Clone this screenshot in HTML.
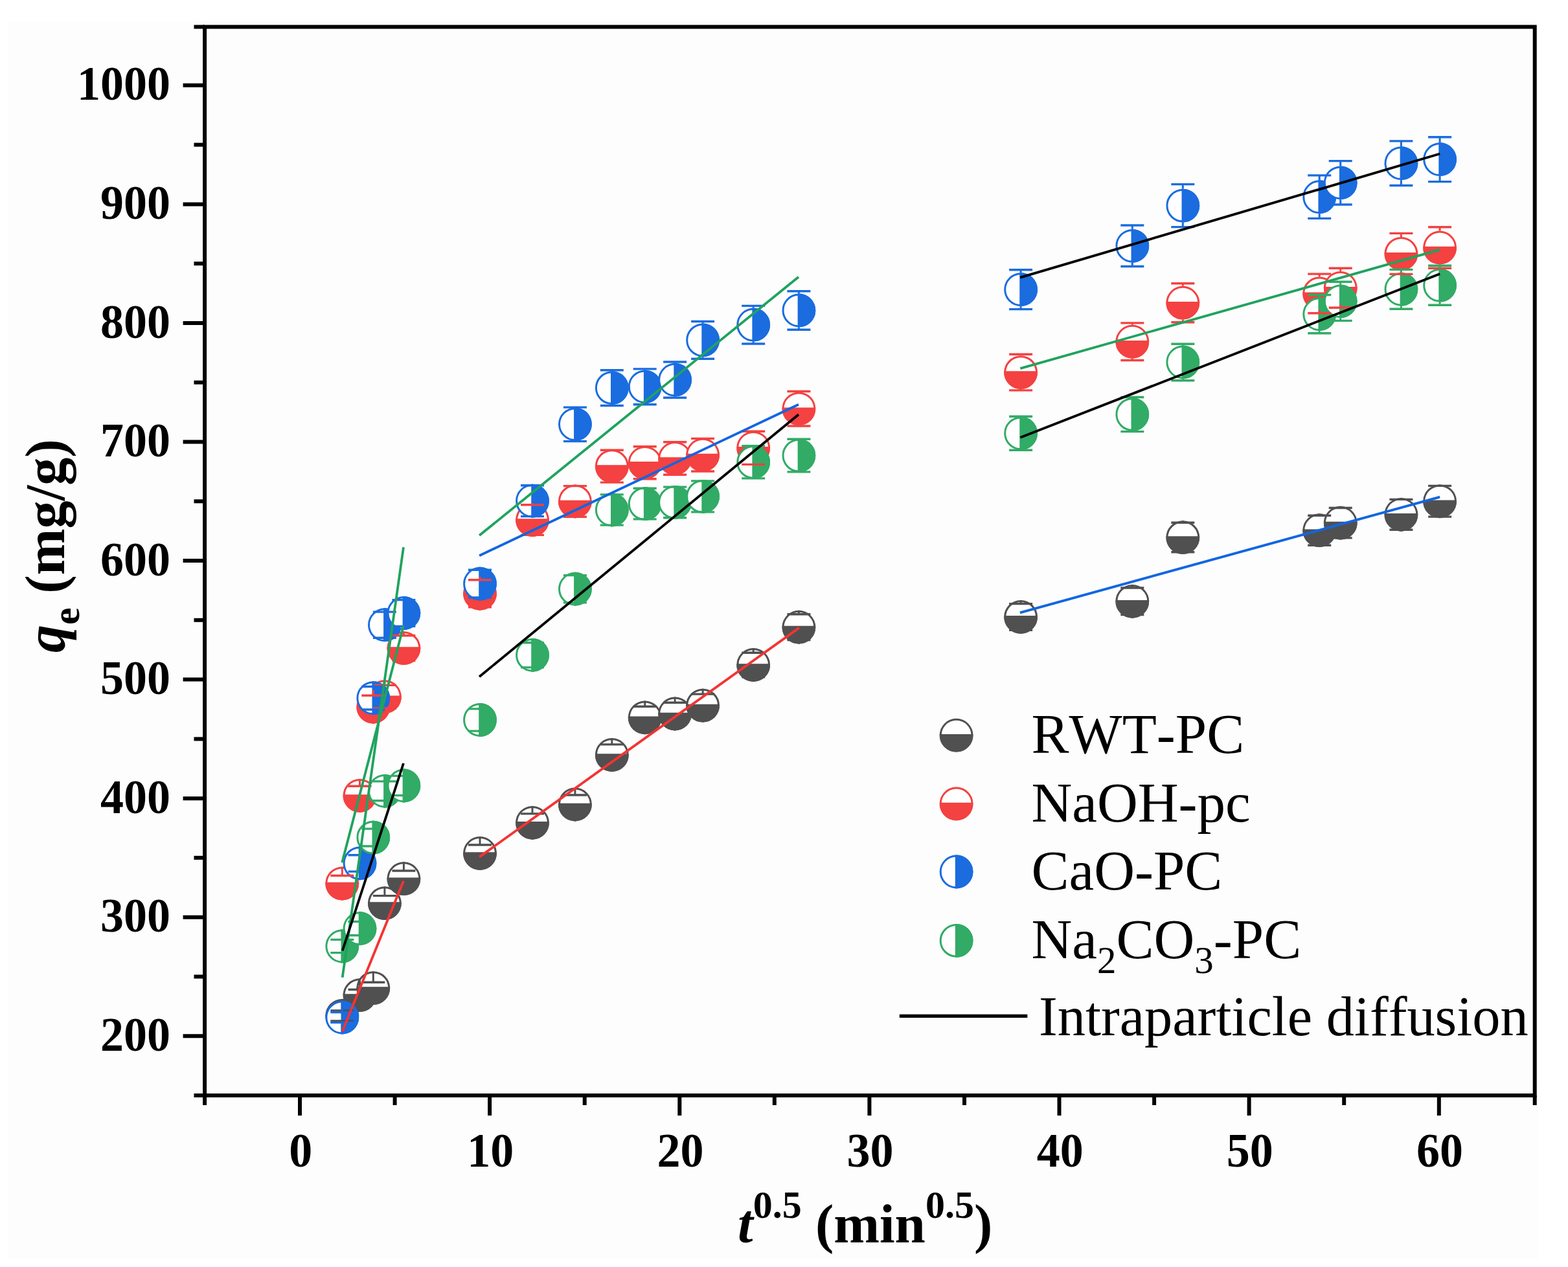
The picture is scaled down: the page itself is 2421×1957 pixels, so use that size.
<!DOCTYPE html>
<html><head><meta charset="utf-8"><title>Intraparticle diffusion</title>
<style>html,body{margin:0;padding:0;background:#fff;width:2421px;height:1957px;overflow:hidden}svg{display:block}text{font-kerning:none}</style>
</head><body><svg width="2421" height="1957" viewBox="0 0 2421 1957"><rect x="13" y="33" width="2362" height="1912" fill="#fdfdfd"/><g><circle cx="528.3" cy="1568.9" r="24.4" fill="#fff" stroke="#505050" stroke-width="3.0"/><path d="M502.47,1567.09 A25.90,25.90 0 1 0 554.14,1567.09 Z" fill="#505050"/><circle cx="555.5" cy="1537.1" r="24.4" fill="#fff" stroke="#505050" stroke-width="3.0"/><path d="M529.64,1535.34 A25.90,25.90 0 1 0 581.32,1535.34 Z" fill="#505050"/><circle cx="576.3" cy="1526.1" r="24.4" fill="#fff" stroke="#505050" stroke-width="3.0"/><path d="M550.50,1524.32 A25.90,25.90 0 1 0 602.17,1524.32 Z" fill="#505050"/><circle cx="593.9" cy="1395.1" r="24.4" fill="#fff" stroke="#505050" stroke-width="3.0"/><path d="M568.08,1393.26 A25.90,25.90 0 1 0 619.75,1393.26 Z" fill="#505050"/><circle cx="623.4" cy="1357.2" r="24.4" fill="#fff" stroke="#505050" stroke-width="3.0"/><path d="M597.56,1355.45 A25.90,25.90 0 1 0 649.24,1355.45 Z" fill="#505050"/><circle cx="741.0" cy="1318.0" r="24.4" fill="#fff" stroke="#505050" stroke-width="3.0"/><path d="M715.21,1316.16 A25.90,25.90 0 1 0 766.88,1316.16 Z" fill="#505050"/><circle cx="822.0" cy="1270.8" r="24.4" fill="#fff" stroke="#505050" stroke-width="3.0"/><path d="M796.20,1268.99 A25.90,25.90 0 1 0 847.88,1268.99 Z" fill="#505050"/><circle cx="887.9" cy="1242.5" r="24.4" fill="#fff" stroke="#505050" stroke-width="3.0"/><path d="M862.04,1240.72 A25.90,25.90 0 1 0 913.71,1240.72 Z" fill="#505050"/><circle cx="944.8" cy="1166.0" r="24.4" fill="#fff" stroke="#505050" stroke-width="3.0"/><path d="M918.97,1164.18 A25.90,25.90 0 1 0 970.64,1164.18 Z" fill="#505050"/><circle cx="995.7" cy="1108.3" r="24.4" fill="#fff" stroke="#505050" stroke-width="3.0"/><path d="M969.85,1106.54 A25.90,25.90 0 1 0 1021.52,1106.54 Z" fill="#505050"/><circle cx="1042.1" cy="1102.5" r="24.4" fill="#fff" stroke="#505050" stroke-width="3.0"/><path d="M1016.28,1100.67 A25.90,25.90 0 1 0 1067.96,1100.67 Z" fill="#505050"/><circle cx="1085.1" cy="1089.6" r="24.4" fill="#fff" stroke="#505050" stroke-width="3.0"/><path d="M1059.26,1087.82 A25.90,25.90 0 1 0 1110.93,1087.82 Z" fill="#505050"/><circle cx="1163.2" cy="1027.0" r="24.4" fill="#fff" stroke="#505050" stroke-width="3.0"/><path d="M1137.35,1025.22 A25.90,25.90 0 1 0 1189.02,1025.22 Z" fill="#505050"/><circle cx="1233.4" cy="968.7" r="24.4" fill="#fff" stroke="#505050" stroke-width="3.0"/><path d="M1207.56,966.85 A25.90,25.90 0 1 0 1259.24,966.85 Z" fill="#505050"/><circle cx="1576.1" cy="952.9" r="24.4" fill="#fff" stroke="#505050" stroke-width="3.0"/><path d="M1550.24,951.06 A25.90,25.90 0 1 0 1601.91,951.06 Z" fill="#505050"/><circle cx="1748.3" cy="928.8" r="24.4" fill="#fff" stroke="#505050" stroke-width="3.0"/><path d="M1722.48,927.02 A25.90,25.90 0 1 0 1774.15,927.02 Z" fill="#505050"/><circle cx="1826.3" cy="830.1" r="24.4" fill="#fff" stroke="#505050" stroke-width="3.0"/><path d="M1800.46,828.26 A25.90,25.90 0 1 0 1852.14,828.26 Z" fill="#505050"/><circle cx="2037.2" cy="819.2" r="24.4" fill="#fff" stroke="#505050" stroke-width="3.0"/><path d="M2011.41,817.43 A25.90,25.90 0 1 0 2063.09,817.43 Z" fill="#505050"/><circle cx="2069.7" cy="807.7" r="24.4" fill="#fff" stroke="#505050" stroke-width="3.0"/><path d="M2043.88,805.87 A25.90,25.90 0 1 0 2095.56,805.87 Z" fill="#505050"/><circle cx="2163.4" cy="794.8" r="24.4" fill="#fff" stroke="#505050" stroke-width="3.0"/><path d="M2137.57,793.02 A25.90,25.90 0 1 0 2189.25,793.02 Z" fill="#505050"/><circle cx="2223.1" cy="774.3" r="24.4" fill="#fff" stroke="#505050" stroke-width="3.0"/><path d="M2197.26,772.46 A25.90,25.90 0 1 0 2248.94,772.46 Z" fill="#505050"/><circle cx="528.3" cy="1364.6" r="24.4" fill="#fff" stroke="#F44141" stroke-width="3.0"/><path d="M502.47,1362.79 A25.90,25.90 0 1 0 554.14,1362.79 Z" fill="#F44141"/><circle cx="555.5" cy="1228.9" r="24.4" fill="#fff" stroke="#F44141" stroke-width="3.0"/><path d="M529.64,1227.14 A25.90,25.90 0 1 0 581.32,1227.14 Z" fill="#F44141"/><circle cx="576.3" cy="1091.8" r="24.4" fill="#fff" stroke="#F44141" stroke-width="3.0"/><path d="M550.50,1090.02 A25.90,25.90 0 1 0 602.17,1090.02 Z" fill="#F44141"/><circle cx="593.9" cy="1076.2" r="24.4" fill="#fff" stroke="#F44141" stroke-width="3.0"/><path d="M568.08,1074.42 A25.90,25.90 0 1 0 619.75,1074.42 Z" fill="#F44141"/><circle cx="623.4" cy="1001.1" r="24.4" fill="#fff" stroke="#F44141" stroke-width="3.0"/><path d="M597.56,999.34 A25.90,25.90 0 1 0 649.24,999.34 Z" fill="#F44141"/><circle cx="741.0" cy="916.7" r="24.4" fill="#fff" stroke="#F44141" stroke-width="3.0"/><path d="M715.21,914.90 A25.90,25.90 0 1 0 766.88,914.90 Z" fill="#F44141"/><circle cx="822.0" cy="803.1" r="24.4" fill="#fff" stroke="#F44141" stroke-width="3.0"/><path d="M796.20,801.28 A25.90,25.90 0 1 0 847.88,801.28 Z" fill="#F44141"/><circle cx="887.9" cy="774.4" r="24.4" fill="#fff" stroke="#F44141" stroke-width="3.0"/><path d="M862.04,772.64 A25.90,25.90 0 1 0 913.71,772.64 Z" fill="#F44141"/><circle cx="944.8" cy="720.1" r="24.4" fill="#fff" stroke="#F44141" stroke-width="3.0"/><path d="M918.97,718.31 A25.90,25.90 0 1 0 970.64,718.31 Z" fill="#F44141"/><circle cx="995.7" cy="714.8" r="24.4" fill="#fff" stroke="#F44141" stroke-width="3.0"/><path d="M969.85,712.99 A25.90,25.90 0 1 0 1021.52,712.99 Z" fill="#F44141"/><circle cx="1042.1" cy="708.0" r="24.4" fill="#fff" stroke="#F44141" stroke-width="3.0"/><path d="M1016.28,706.19 A25.90,25.90 0 1 0 1067.96,706.19 Z" fill="#F44141"/><circle cx="1085.1" cy="702.7" r="24.4" fill="#fff" stroke="#F44141" stroke-width="3.0"/><path d="M1059.26,700.87 A25.90,25.90 0 1 0 1110.93,700.87 Z" fill="#F44141"/><circle cx="1163.2" cy="691.8" r="24.4" fill="#fff" stroke="#F44141" stroke-width="3.0"/><path d="M1137.35,690.04 A25.90,25.90 0 1 0 1189.02,690.04 Z" fill="#F44141"/><circle cx="1233.4" cy="631.3" r="24.4" fill="#fff" stroke="#F44141" stroke-width="3.0"/><path d="M1207.56,629.47 A25.90,25.90 0 1 0 1259.24,629.47 Z" fill="#F44141"/><circle cx="1576.1" cy="575.1" r="24.4" fill="#fff" stroke="#F44141" stroke-width="3.0"/><path d="M1550.24,573.30 A25.90,25.90 0 1 0 1601.91,573.30 Z" fill="#F44141"/><circle cx="1748.3" cy="527.7" r="24.4" fill="#fff" stroke="#F44141" stroke-width="3.0"/><path d="M1722.48,525.94 A25.90,25.90 0 1 0 1774.15,525.94 Z" fill="#F44141"/><circle cx="1826.3" cy="467.7" r="24.4" fill="#fff" stroke="#F44141" stroke-width="3.0"/><path d="M1800.46,465.91 A25.90,25.90 0 1 0 1852.14,465.91 Z" fill="#F44141"/><circle cx="2037.2" cy="453.4" r="24.4" fill="#fff" stroke="#F44141" stroke-width="3.0"/><path d="M2011.41,451.60 A25.90,25.90 0 1 0 2063.09,451.60 Z" fill="#F44141"/><circle cx="2069.7" cy="444.8" r="24.4" fill="#fff" stroke="#F44141" stroke-width="3.0"/><path d="M2043.88,442.97 A25.90,25.90 0 1 0 2095.56,442.97 Z" fill="#F44141"/><circle cx="2163.4" cy="391.9" r="24.4" fill="#fff" stroke="#F44141" stroke-width="3.0"/><path d="M2137.57,390.10 A25.90,25.90 0 1 0 2189.25,390.10 Z" fill="#F44141"/><circle cx="2223.1" cy="382.5" r="24.4" fill="#fff" stroke="#F44141" stroke-width="3.0"/><path d="M2197.26,380.74 A25.90,25.90 0 1 0 2248.94,380.74 Z" fill="#F44141"/><circle cx="528.3" cy="1571.5" r="24.4" fill="#fff" stroke="#1A6CDF" stroke-width="3.0"/><path d="M526.51,1545.62 A25.90,25.90 0 1 1 526.51,1597.30 Z" fill="#1A6CDF"/><circle cx="555.5" cy="1333.4" r="24.4" fill="#fff" stroke="#1A6CDF" stroke-width="3.0"/><path d="M553.68,1307.55 A25.90,25.90 0 1 1 553.68,1359.22 Z" fill="#1A6CDF"/><circle cx="576.3" cy="1078.2" r="24.4" fill="#fff" stroke="#1A6CDF" stroke-width="3.0"/><path d="M574.53,1052.40 A25.90,25.90 0 1 1 574.53,1104.07 Z" fill="#1A6CDF"/><circle cx="593.9" cy="965.2" r="24.4" fill="#fff" stroke="#1A6CDF" stroke-width="3.0"/><path d="M592.11,939.33 A25.90,25.90 0 1 1 592.11,991.00 Z" fill="#1A6CDF"/><circle cx="623.4" cy="947.0" r="24.4" fill="#fff" stroke="#1A6CDF" stroke-width="3.0"/><path d="M621.60,921.15 A25.90,25.90 0 1 1 621.60,972.83 Z" fill="#1A6CDF"/><circle cx="741.0" cy="901.7" r="24.4" fill="#fff" stroke="#1A6CDF" stroke-width="3.0"/><path d="M739.24,875.81 A25.90,25.90 0 1 1 739.24,927.49 Z" fill="#1A6CDF"/><circle cx="822.0" cy="773.7" r="24.4" fill="#fff" stroke="#1A6CDF" stroke-width="3.0"/><path d="M820.24,747.87 A25.90,25.90 0 1 1 820.24,799.55 Z" fill="#1A6CDF"/><circle cx="887.9" cy="655.3" r="24.4" fill="#fff" stroke="#1A6CDF" stroke-width="3.0"/><path d="M886.08,629.48 A25.90,25.90 0 1 1 886.08,681.15 Z" fill="#1A6CDF"/><circle cx="944.8" cy="599.1" r="24.4" fill="#fff" stroke="#1A6CDF" stroke-width="3.0"/><path d="M943.01,573.31 A25.90,25.90 0 1 1 943.01,624.98 Z" fill="#1A6CDF"/><circle cx="995.7" cy="597.3" r="24.4" fill="#fff" stroke="#1A6CDF" stroke-width="3.0"/><path d="M993.89,571.47 A25.90,25.90 0 1 1 993.89,623.15 Z" fill="#1A6CDF"/><circle cx="1042.1" cy="586.7" r="24.4" fill="#fff" stroke="#1A6CDF" stroke-width="3.0"/><path d="M1040.32,560.82 A25.90,25.90 0 1 1 1040.32,612.50 Z" fill="#1A6CDF"/><circle cx="1085.1" cy="525.4" r="24.4" fill="#fff" stroke="#1A6CDF" stroke-width="3.0"/><path d="M1083.30,499.52 A25.90,25.90 0 1 1 1083.30,551.19 Z" fill="#1A6CDF"/><circle cx="1163.2" cy="501.7" r="24.4" fill="#fff" stroke="#1A6CDF" stroke-width="3.0"/><path d="M1161.38,475.84 A25.90,25.90 0 1 1 1161.38,527.51 Z" fill="#1A6CDF"/><circle cx="1233.4" cy="479.5" r="24.4" fill="#fff" stroke="#1A6CDF" stroke-width="3.0"/><path d="M1231.60,453.63 A25.90,25.90 0 1 1 1231.60,505.30 Z" fill="#1A6CDF"/><circle cx="1576.1" cy="447.2" r="24.4" fill="#fff" stroke="#1A6CDF" stroke-width="3.0"/><path d="M1574.27,421.32 A25.90,25.90 0 1 1 1574.27,472.99 Z" fill="#1A6CDF"/><circle cx="1748.3" cy="379.8" r="24.4" fill="#fff" stroke="#1A6CDF" stroke-width="3.0"/><path d="M1746.51,353.95 A25.90,25.90 0 1 1 1746.51,405.63 Z" fill="#1A6CDF"/><circle cx="1826.3" cy="317.6" r="24.4" fill="#fff" stroke="#1A6CDF" stroke-width="3.0"/><path d="M1824.50,291.73 A25.90,25.90 0 1 1 1824.50,343.40 Z" fill="#1A6CDF"/><circle cx="2037.2" cy="304.2" r="24.4" fill="#fff" stroke="#1A6CDF" stroke-width="3.0"/><path d="M2035.45,278.33 A25.90,25.90 0 1 1 2035.45,330.00 Z" fill="#1A6CDF"/><circle cx="2069.7" cy="282.3" r="24.4" fill="#fff" stroke="#1A6CDF" stroke-width="3.0"/><path d="M2067.92,256.48 A25.90,25.90 0 1 1 2067.92,308.16 Z" fill="#1A6CDF"/><circle cx="2163.4" cy="252.2" r="24.4" fill="#fff" stroke="#1A6CDF" stroke-width="3.0"/><path d="M2161.61,226.38 A25.90,25.90 0 1 1 2161.61,278.05 Z" fill="#1A6CDF"/><circle cx="2223.1" cy="246.2" r="24.4" fill="#fff" stroke="#1A6CDF" stroke-width="3.0"/><path d="M2221.30,220.32 A25.90,25.90 0 1 1 2221.30,272.00 Z" fill="#1A6CDF"/><circle cx="528.3" cy="1461.5" r="24.4" fill="#fff" stroke="#31AB66" stroke-width="3.0"/><path d="M526.51,1435.67 A25.90,25.90 0 1 1 526.51,1487.35 Z" fill="#31AB66"/><circle cx="555.5" cy="1434.2" r="24.4" fill="#fff" stroke="#31AB66" stroke-width="3.0"/><path d="M553.68,1408.32 A25.90,25.90 0 1 1 553.68,1460.00 Z" fill="#31AB66"/><circle cx="576.3" cy="1293.6" r="24.4" fill="#fff" stroke="#31AB66" stroke-width="3.0"/><path d="M574.53,1267.71 A25.90,25.90 0 1 1 574.53,1319.39 Z" fill="#31AB66"/><circle cx="593.9" cy="1221.8" r="24.4" fill="#fff" stroke="#31AB66" stroke-width="3.0"/><path d="M592.11,1195.94 A25.90,25.90 0 1 1 592.11,1247.62 Z" fill="#31AB66"/><circle cx="623.4" cy="1213.5" r="24.4" fill="#fff" stroke="#31AB66" stroke-width="3.0"/><path d="M621.60,1187.68 A25.90,25.90 0 1 1 621.60,1239.36 Z" fill="#31AB66"/><circle cx="741.0" cy="1112.0" r="24.4" fill="#fff" stroke="#31AB66" stroke-width="3.0"/><path d="M739.24,1086.17 A25.90,25.90 0 1 1 739.24,1137.85 Z" fill="#31AB66"/><circle cx="822.0" cy="1011.8" r="24.4" fill="#fff" stroke="#31AB66" stroke-width="3.0"/><path d="M820.24,985.95 A25.90,25.90 0 1 1 820.24,1037.62 Z" fill="#31AB66"/><circle cx="887.9" cy="909.7" r="24.4" fill="#fff" stroke="#31AB66" stroke-width="3.0"/><path d="M886.08,883.89 A25.90,25.90 0 1 1 886.08,935.56 Z" fill="#31AB66"/><circle cx="944.8" cy="787.5" r="24.4" fill="#fff" stroke="#31AB66" stroke-width="3.0"/><path d="M943.01,761.64 A25.90,25.90 0 1 1 943.01,813.31 Z" fill="#31AB66"/><circle cx="995.7" cy="778.1" r="24.4" fill="#fff" stroke="#31AB66" stroke-width="3.0"/><path d="M993.89,752.28 A25.90,25.90 0 1 1 993.89,803.95 Z" fill="#31AB66"/><circle cx="1042.1" cy="775.9" r="24.4" fill="#fff" stroke="#31AB66" stroke-width="3.0"/><path d="M1040.32,750.07 A25.90,25.90 0 1 1 1040.32,801.75 Z" fill="#31AB66"/><circle cx="1085.1" cy="766.9" r="24.4" fill="#fff" stroke="#31AB66" stroke-width="3.0"/><path d="M1083.30,741.08 A25.90,25.90 0 1 1 1083.30,792.75 Z" fill="#31AB66"/><circle cx="1163.2" cy="713.9" r="24.4" fill="#fff" stroke="#31AB66" stroke-width="3.0"/><path d="M1161.38,688.03 A25.90,25.90 0 1 1 1161.38,739.71 Z" fill="#31AB66"/><circle cx="1233.4" cy="703.6" r="24.4" fill="#fff" stroke="#31AB66" stroke-width="3.0"/><path d="M1231.60,677.75 A25.90,25.90 0 1 1 1231.60,729.43 Z" fill="#31AB66"/><circle cx="1576.1" cy="669.3" r="24.4" fill="#fff" stroke="#31AB66" stroke-width="3.0"/><path d="M1574.27,643.43 A25.90,25.90 0 1 1 1574.27,695.10 Z" fill="#31AB66"/><circle cx="1748.3" cy="640.1" r="24.4" fill="#fff" stroke="#31AB66" stroke-width="3.0"/><path d="M1746.51,614.24 A25.90,25.90 0 1 1 1746.51,665.92 Z" fill="#31AB66"/><circle cx="1826.3" cy="559.5" r="24.4" fill="#fff" stroke="#31AB66" stroke-width="3.0"/><path d="M1824.50,533.66 A25.90,25.90 0 1 1 1824.50,585.33 Z" fill="#31AB66"/><circle cx="2037.2" cy="485.2" r="24.4" fill="#fff" stroke="#31AB66" stroke-width="3.0"/><path d="M2035.45,459.32 A25.90,25.90 0 1 1 2035.45,510.99 Z" fill="#31AB66"/><circle cx="2069.7" cy="465.3" r="24.4" fill="#fff" stroke="#31AB66" stroke-width="3.0"/><path d="M2067.92,439.49 A25.90,25.90 0 1 1 2067.92,491.17 Z" fill="#31AB66"/><circle cx="2163.4" cy="446.8" r="24.4" fill="#fff" stroke="#31AB66" stroke-width="3.0"/><path d="M2161.61,420.95 A25.90,25.90 0 1 1 2161.61,472.63 Z" fill="#31AB66"/><circle cx="2223.1" cy="440.7" r="24.4" fill="#fff" stroke="#31AB66" stroke-width="3.0"/><path d="M2221.30,414.89 A25.90,25.90 0 1 1 2221.30,466.57 Z" fill="#31AB66"/></g><g><line x1="528.3" y1="1543.0" x2="528.3" y2="1560.9" stroke="#505050" stroke-width="3"/><line x1="510.3" y1="1560.9" x2="546.3" y2="1560.9" stroke="#505050" stroke-width="3.4"/><line x1="528.3" y1="1594.8" x2="528.3" y2="1576.9" stroke="#505050" stroke-width="3"/><line x1="510.3" y1="1576.9" x2="546.3" y2="1576.9" stroke="#505050" stroke-width="3.4"/><line x1="555.5" y1="1511.2" x2="555.5" y2="1528.5" stroke="#505050" stroke-width="3"/><line x1="537.5" y1="1528.5" x2="573.5" y2="1528.5" stroke="#505050" stroke-width="3.4"/><line x1="555.5" y1="1563.0" x2="555.5" y2="1545.7" stroke="#505050" stroke-width="3"/><line x1="537.5" y1="1545.7" x2="573.5" y2="1545.7" stroke="#505050" stroke-width="3.4"/><line x1="576.3" y1="1500.2" x2="576.3" y2="1517.3" stroke="#505050" stroke-width="3"/><line x1="558.3" y1="1517.3" x2="594.3" y2="1517.3" stroke="#505050" stroke-width="3.4"/><line x1="576.3" y1="1552.0" x2="576.3" y2="1534.9" stroke="#505050" stroke-width="3"/><line x1="558.3" y1="1534.9" x2="594.3" y2="1534.9" stroke="#505050" stroke-width="3.4"/><line x1="593.9" y1="1369.2" x2="593.9" y2="1383.6" stroke="#505050" stroke-width="3"/><line x1="575.9" y1="1383.6" x2="611.9" y2="1383.6" stroke="#505050" stroke-width="3.4"/><line x1="593.9" y1="1421.0" x2="593.9" y2="1406.5" stroke="#505050" stroke-width="3"/><line x1="575.9" y1="1406.5" x2="611.9" y2="1406.5" stroke="#505050" stroke-width="3.4"/><line x1="623.4" y1="1331.3" x2="623.4" y2="1345.0" stroke="#505050" stroke-width="3"/><line x1="605.4" y1="1345.0" x2="641.4" y2="1345.0" stroke="#505050" stroke-width="3.4"/><line x1="623.4" y1="1383.1" x2="623.4" y2="1369.4" stroke="#505050" stroke-width="3"/><line x1="605.4" y1="1369.4" x2="641.4" y2="1369.4" stroke="#505050" stroke-width="3.4"/><line x1="741.0" y1="1292.1" x2="741.0" y2="1305.0" stroke="#505050" stroke-width="3"/><line x1="723.0" y1="1305.0" x2="759.0" y2="1305.0" stroke="#505050" stroke-width="3.4"/><line x1="741.0" y1="1343.9" x2="741.0" y2="1331.0" stroke="#505050" stroke-width="3"/><line x1="723.0" y1="1331.0" x2="759.0" y2="1331.0" stroke="#505050" stroke-width="3.4"/><line x1="822.0" y1="1244.9" x2="822.0" y2="1256.9" stroke="#505050" stroke-width="3"/><line x1="804.0" y1="1256.9" x2="840.0" y2="1256.9" stroke="#505050" stroke-width="3.4"/><line x1="822.0" y1="1296.7" x2="822.0" y2="1284.7" stroke="#505050" stroke-width="3"/><line x1="804.0" y1="1284.7" x2="840.0" y2="1284.7" stroke="#505050" stroke-width="3.4"/><line x1="887.9" y1="1216.6" x2="887.9" y2="1228.0" stroke="#505050" stroke-width="3"/><line x1="869.9" y1="1228.0" x2="905.9" y2="1228.0" stroke="#505050" stroke-width="3.4"/><line x1="887.9" y1="1268.4" x2="887.9" y2="1257.0" stroke="#505050" stroke-width="3"/><line x1="869.9" y1="1257.0" x2="905.9" y2="1257.0" stroke="#505050" stroke-width="3.4"/><line x1="944.8" y1="1140.1" x2="944.8" y2="1149.9" stroke="#505050" stroke-width="3"/><line x1="926.8" y1="1149.9" x2="962.8" y2="1149.9" stroke="#505050" stroke-width="3.4"/><line x1="944.8" y1="1191.9" x2="944.8" y2="1182.0" stroke="#505050" stroke-width="3"/><line x1="926.8" y1="1182.0" x2="962.8" y2="1182.0" stroke="#505050" stroke-width="3.4"/><line x1="995.7" y1="1082.4" x2="995.7" y2="1091.2" stroke="#505050" stroke-width="3"/><line x1="977.7" y1="1091.2" x2="1013.7" y2="1091.2" stroke="#505050" stroke-width="3.4"/><line x1="995.7" y1="1134.2" x2="995.7" y2="1125.5" stroke="#505050" stroke-width="3"/><line x1="977.7" y1="1125.5" x2="1013.7" y2="1125.5" stroke="#505050" stroke-width="3.4"/><line x1="1042.1" y1="1076.6" x2="1042.1" y2="1085.2" stroke="#505050" stroke-width="3"/><line x1="1024.1" y1="1085.2" x2="1060.1" y2="1085.2" stroke="#505050" stroke-width="3.4"/><line x1="1042.1" y1="1128.4" x2="1042.1" y2="1119.8" stroke="#505050" stroke-width="3"/><line x1="1024.1" y1="1119.8" x2="1060.1" y2="1119.8" stroke="#505050" stroke-width="3.4"/><line x1="1085.1" y1="1063.7" x2="1085.1" y2="1072.1" stroke="#505050" stroke-width="3"/><line x1="1067.1" y1="1072.1" x2="1103.1" y2="1072.1" stroke="#505050" stroke-width="3.4"/><line x1="1085.1" y1="1115.5" x2="1085.1" y2="1107.2" stroke="#505050" stroke-width="3"/><line x1="1067.1" y1="1107.2" x2="1103.1" y2="1107.2" stroke="#505050" stroke-width="3.4"/><line x1="1163.2" y1="1001.1" x2="1163.2" y2="1008.2" stroke="#505050" stroke-width="3"/><line x1="1145.2" y1="1008.2" x2="1181.2" y2="1008.2" stroke="#505050" stroke-width="3.4"/><line x1="1163.2" y1="1052.9" x2="1163.2" y2="1045.8" stroke="#505050" stroke-width="3"/><line x1="1145.2" y1="1045.8" x2="1181.2" y2="1045.8" stroke="#505050" stroke-width="3.4"/><line x1="1233.4" y1="942.8" x2="1233.4" y2="948.7" stroke="#505050" stroke-width="3"/><line x1="1215.4" y1="948.7" x2="1251.4" y2="948.7" stroke="#505050" stroke-width="3.4"/><line x1="1233.4" y1="994.6" x2="1233.4" y2="988.6" stroke="#505050" stroke-width="3"/><line x1="1215.4" y1="988.6" x2="1251.4" y2="988.6" stroke="#505050" stroke-width="3.4"/><line x1="1576.1" y1="927.0" x2="1576.1" y2="932.6" stroke="#505050" stroke-width="3"/><line x1="1558.1" y1="932.6" x2="1594.1" y2="932.6" stroke="#505050" stroke-width="3.4"/><line x1="1576.1" y1="978.8" x2="1576.1" y2="973.2" stroke="#505050" stroke-width="3"/><line x1="1558.1" y1="973.2" x2="1594.1" y2="973.2" stroke="#505050" stroke-width="3.4"/><line x1="1748.3" y1="902.9" x2="1748.3" y2="908.0" stroke="#505050" stroke-width="3"/><line x1="1730.3" y1="908.0" x2="1766.3" y2="908.0" stroke="#505050" stroke-width="3.4"/><line x1="1748.3" y1="954.7" x2="1748.3" y2="949.6" stroke="#505050" stroke-width="3"/><line x1="1730.3" y1="949.6" x2="1766.3" y2="949.6" stroke="#505050" stroke-width="3.4"/><line x1="1826.3" y1="804.2" x2="1826.3" y2="807.3" stroke="#505050" stroke-width="3"/><line x1="1808.3" y1="807.3" x2="1844.3" y2="807.3" stroke="#505050" stroke-width="3.4"/><line x1="1826.3" y1="856.0" x2="1826.3" y2="852.8" stroke="#505050" stroke-width="3"/><line x1="1808.3" y1="852.8" x2="1844.3" y2="852.8" stroke="#505050" stroke-width="3.4"/><line x1="2037.2" y1="793.3" x2="2037.2" y2="796.3" stroke="#505050" stroke-width="3"/><line x1="2019.2" y1="796.3" x2="2055.2" y2="796.3" stroke="#505050" stroke-width="3.4"/><line x1="2037.2" y1="845.1" x2="2037.2" y2="842.2" stroke="#505050" stroke-width="3"/><line x1="2019.2" y1="842.2" x2="2055.2" y2="842.2" stroke="#505050" stroke-width="3.4"/><line x1="2069.7" y1="781.8" x2="2069.7" y2="784.5" stroke="#505050" stroke-width="3"/><line x1="2051.7" y1="784.5" x2="2087.7" y2="784.5" stroke="#505050" stroke-width="3.4"/><line x1="2069.7" y1="833.6" x2="2069.7" y2="830.9" stroke="#505050" stroke-width="3"/><line x1="2051.7" y1="830.9" x2="2087.7" y2="830.9" stroke="#505050" stroke-width="3.4"/><line x1="2163.4" y1="768.9" x2="2163.4" y2="771.4" stroke="#505050" stroke-width="3"/><line x1="2145.4" y1="771.4" x2="2181.4" y2="771.4" stroke="#505050" stroke-width="3.4"/><line x1="2163.4" y1="820.7" x2="2163.4" y2="818.3" stroke="#505050" stroke-width="3"/><line x1="2145.4" y1="818.3" x2="2181.4" y2="818.3" stroke="#505050" stroke-width="3.4"/><line x1="2223.1" y1="748.4" x2="2223.1" y2="750.4" stroke="#505050" stroke-width="3"/><line x1="2205.1" y1="750.4" x2="2241.1" y2="750.4" stroke="#505050" stroke-width="3.4"/><line x1="2223.1" y1="800.2" x2="2223.1" y2="798.1" stroke="#505050" stroke-width="3"/><line x1="2205.1" y1="798.1" x2="2241.1" y2="798.1" stroke="#505050" stroke-width="3.4"/><line x1="528.3" y1="1338.7" x2="528.3" y2="1352.5" stroke="#F44141" stroke-width="3"/><line x1="510.3" y1="1352.5" x2="546.3" y2="1352.5" stroke="#F44141" stroke-width="3.4"/><line x1="528.3" y1="1390.5" x2="528.3" y2="1376.6" stroke="#F44141" stroke-width="3"/><line x1="510.3" y1="1376.6" x2="546.3" y2="1376.6" stroke="#F44141" stroke-width="3.4"/><line x1="555.5" y1="1203.0" x2="555.5" y2="1214.2" stroke="#F44141" stroke-width="3"/><line x1="537.5" y1="1214.2" x2="573.5" y2="1214.2" stroke="#F44141" stroke-width="3.4"/><line x1="555.5" y1="1254.8" x2="555.5" y2="1243.7" stroke="#F44141" stroke-width="3"/><line x1="537.5" y1="1243.7" x2="573.5" y2="1243.7" stroke="#F44141" stroke-width="3.4"/><line x1="576.3" y1="1065.9" x2="576.3" y2="1074.3" stroke="#F44141" stroke-width="3"/><line x1="558.3" y1="1074.3" x2="594.3" y2="1074.3" stroke="#F44141" stroke-width="3.4"/><line x1="576.3" y1="1117.7" x2="576.3" y2="1109.3" stroke="#F44141" stroke-width="3"/><line x1="558.3" y1="1109.3" x2="594.3" y2="1109.3" stroke="#F44141" stroke-width="3.4"/><line x1="593.9" y1="1050.3" x2="593.9" y2="1058.4" stroke="#F44141" stroke-width="3"/><line x1="575.9" y1="1058.4" x2="611.9" y2="1058.4" stroke="#F44141" stroke-width="3.4"/><line x1="593.9" y1="1102.1" x2="593.9" y2="1094.0" stroke="#F44141" stroke-width="3"/><line x1="575.9" y1="1094.0" x2="611.9" y2="1094.0" stroke="#F44141" stroke-width="3.4"/><line x1="623.4" y1="975.2" x2="623.4" y2="981.8" stroke="#F44141" stroke-width="3"/><line x1="605.4" y1="981.8" x2="641.4" y2="981.8" stroke="#F44141" stroke-width="3.4"/><line x1="623.4" y1="1027.0" x2="623.4" y2="1020.5" stroke="#F44141" stroke-width="3"/><line x1="605.4" y1="1020.5" x2="641.4" y2="1020.5" stroke="#F44141" stroke-width="3.4"/><line x1="741.0" y1="890.8" x2="741.0" y2="895.7" stroke="#F44141" stroke-width="3"/><line x1="723.0" y1="895.7" x2="759.0" y2="895.7" stroke="#F44141" stroke-width="3.4"/><line x1="741.0" y1="942.6" x2="741.0" y2="937.7" stroke="#F44141" stroke-width="3"/><line x1="723.0" y1="937.7" x2="759.0" y2="937.7" stroke="#F44141" stroke-width="3.4"/><line x1="822.0" y1="777.2" x2="822.0" y2="779.8" stroke="#F44141" stroke-width="3"/><line x1="804.0" y1="779.8" x2="840.0" y2="779.8" stroke="#F44141" stroke-width="3.4"/><line x1="822.0" y1="829.0" x2="822.0" y2="826.4" stroke="#F44141" stroke-width="3"/><line x1="804.0" y1="826.4" x2="840.0" y2="826.4" stroke="#F44141" stroke-width="3.4"/><line x1="887.9" y1="748.5" x2="887.9" y2="750.6" stroke="#F44141" stroke-width="3"/><line x1="869.9" y1="750.6" x2="905.9" y2="750.6" stroke="#F44141" stroke-width="3.4"/><line x1="887.9" y1="800.3" x2="887.9" y2="798.3" stroke="#F44141" stroke-width="3"/><line x1="869.9" y1="798.3" x2="905.9" y2="798.3" stroke="#F44141" stroke-width="3.4"/><line x1="944.8" y1="694.2" x2="944.8" y2="695.2" stroke="#F44141" stroke-width="3"/><line x1="926.8" y1="695.2" x2="962.8" y2="695.2" stroke="#F44141" stroke-width="3.4"/><line x1="944.8" y1="746.0" x2="944.8" y2="745.1" stroke="#F44141" stroke-width="3"/><line x1="926.8" y1="745.1" x2="962.8" y2="745.1" stroke="#F44141" stroke-width="3.4"/><line x1="995.7" y1="688.9" x2="995.7" y2="689.7" stroke="#F44141" stroke-width="3"/><line x1="977.7" y1="689.7" x2="1013.7" y2="689.7" stroke="#F44141" stroke-width="3.4"/><line x1="995.7" y1="740.7" x2="995.7" y2="739.8" stroke="#F44141" stroke-width="3"/><line x1="977.7" y1="739.8" x2="1013.7" y2="739.8" stroke="#F44141" stroke-width="3.4"/><line x1="1042.1" y1="682.1" x2="1042.1" y2="682.8" stroke="#F44141" stroke-width="3"/><line x1="1024.1" y1="682.8" x2="1060.1" y2="682.8" stroke="#F44141" stroke-width="3.4"/><line x1="1042.1" y1="733.9" x2="1042.1" y2="733.2" stroke="#F44141" stroke-width="3"/><line x1="1024.1" y1="733.2" x2="1060.1" y2="733.2" stroke="#F44141" stroke-width="3.4"/><line x1="1085.1" y1="676.8" x2="1085.1" y2="677.4" stroke="#F44141" stroke-width="3"/><line x1="1067.1" y1="677.4" x2="1103.1" y2="677.4" stroke="#F44141" stroke-width="3.4"/><line x1="1085.1" y1="728.6" x2="1085.1" y2="728.0" stroke="#F44141" stroke-width="3"/><line x1="1067.1" y1="728.0" x2="1103.1" y2="728.0" stroke="#F44141" stroke-width="3.4"/><line x1="1163.2" y1="665.9" x2="1163.2" y2="666.3" stroke="#F44141" stroke-width="3"/><line x1="1145.2" y1="666.3" x2="1181.2" y2="666.3" stroke="#F44141" stroke-width="3.4"/><line x1="1163.2" y1="717.7" x2="1163.2" y2="717.4" stroke="#F44141" stroke-width="3"/><line x1="1145.2" y1="717.4" x2="1181.2" y2="717.4" stroke="#F44141" stroke-width="3.4"/><line x1="1233.4" y1="605.4" x2="1233.4" y2="604.5" stroke="#F44141" stroke-width="3"/><line x1="1215.4" y1="604.5" x2="1251.4" y2="604.5" stroke="#F44141" stroke-width="3.4"/><line x1="1233.4" y1="657.2" x2="1233.4" y2="658.0" stroke="#F44141" stroke-width="3"/><line x1="1215.4" y1="658.0" x2="1251.4" y2="658.0" stroke="#F44141" stroke-width="3.4"/><line x1="1576.1" y1="549.2" x2="1576.1" y2="547.3" stroke="#F44141" stroke-width="3"/><line x1="1558.1" y1="547.3" x2="1594.1" y2="547.3" stroke="#F44141" stroke-width="3.4"/><line x1="1576.1" y1="601.0" x2="1576.1" y2="602.9" stroke="#F44141" stroke-width="3"/><line x1="1558.1" y1="602.9" x2="1594.1" y2="602.9" stroke="#F44141" stroke-width="3.4"/><line x1="1748.3" y1="501.8" x2="1748.3" y2="498.9" stroke="#F44141" stroke-width="3"/><line x1="1730.3" y1="498.9" x2="1766.3" y2="498.9" stroke="#F44141" stroke-width="3.4"/><line x1="1748.3" y1="553.6" x2="1748.3" y2="556.5" stroke="#F44141" stroke-width="3"/><line x1="1730.3" y1="556.5" x2="1766.3" y2="556.5" stroke="#F44141" stroke-width="3.4"/><line x1="1826.3" y1="441.8" x2="1826.3" y2="437.7" stroke="#F44141" stroke-width="3"/><line x1="1808.3" y1="437.7" x2="1844.3" y2="437.7" stroke="#F44141" stroke-width="3.4"/><line x1="1826.3" y1="493.6" x2="1826.3" y2="497.7" stroke="#F44141" stroke-width="3"/><line x1="1808.3" y1="497.7" x2="1844.3" y2="497.7" stroke="#F44141" stroke-width="3.4"/><line x1="2037.2" y1="427.5" x2="2037.2" y2="423.1" stroke="#F44141" stroke-width="3"/><line x1="2019.2" y1="423.1" x2="2055.2" y2="423.1" stroke="#F44141" stroke-width="3.4"/><line x1="2037.2" y1="479.3" x2="2037.2" y2="483.7" stroke="#F44141" stroke-width="3"/><line x1="2019.2" y1="483.7" x2="2055.2" y2="483.7" stroke="#F44141" stroke-width="3.4"/><line x1="2069.7" y1="418.9" x2="2069.7" y2="414.3" stroke="#F44141" stroke-width="3"/><line x1="2051.7" y1="414.3" x2="2087.7" y2="414.3" stroke="#F44141" stroke-width="3.4"/><line x1="2069.7" y1="470.7" x2="2069.7" y2="475.2" stroke="#F44141" stroke-width="3"/><line x1="2051.7" y1="475.2" x2="2087.7" y2="475.2" stroke="#F44141" stroke-width="3.4"/><line x1="2163.4" y1="366.0" x2="2163.4" y2="360.4" stroke="#F44141" stroke-width="3"/><line x1="2145.4" y1="360.4" x2="2181.4" y2="360.4" stroke="#F44141" stroke-width="3.4"/><line x1="2163.4" y1="417.8" x2="2163.4" y2="423.4" stroke="#F44141" stroke-width="3"/><line x1="2145.4" y1="423.4" x2="2181.4" y2="423.4" stroke="#F44141" stroke-width="3.4"/><line x1="2223.1" y1="356.6" x2="2223.1" y2="350.8" stroke="#F44141" stroke-width="3"/><line x1="2205.1" y1="350.8" x2="2241.1" y2="350.8" stroke="#F44141" stroke-width="3.4"/><line x1="2223.1" y1="408.4" x2="2223.1" y2="414.2" stroke="#F44141" stroke-width="3"/><line x1="2205.1" y1="414.2" x2="2241.1" y2="414.2" stroke="#F44141" stroke-width="3.4"/><line x1="528.3" y1="1545.6" x2="528.3" y2="1563.5" stroke="#1A6CDF" stroke-width="3"/><line x1="510.3" y1="1563.5" x2="546.3" y2="1563.5" stroke="#1A6CDF" stroke-width="3.4"/><line x1="528.3" y1="1597.4" x2="528.3" y2="1579.4" stroke="#1A6CDF" stroke-width="3"/><line x1="510.3" y1="1579.4" x2="546.3" y2="1579.4" stroke="#1A6CDF" stroke-width="3.4"/><line x1="555.5" y1="1307.5" x2="555.5" y2="1320.7" stroke="#1A6CDF" stroke-width="3"/><line x1="537.5" y1="1320.7" x2="573.5" y2="1320.7" stroke="#1A6CDF" stroke-width="3.4"/><line x1="555.5" y1="1359.3" x2="555.5" y2="1346.1" stroke="#1A6CDF" stroke-width="3"/><line x1="537.5" y1="1346.1" x2="573.5" y2="1346.1" stroke="#1A6CDF" stroke-width="3.4"/><line x1="576.3" y1="1052.3" x2="576.3" y2="1060.5" stroke="#1A6CDF" stroke-width="3"/><line x1="558.3" y1="1060.5" x2="594.3" y2="1060.5" stroke="#1A6CDF" stroke-width="3.4"/><line x1="576.3" y1="1104.1" x2="576.3" y2="1096.0" stroke="#1A6CDF" stroke-width="3"/><line x1="558.3" y1="1096.0" x2="594.3" y2="1096.0" stroke="#1A6CDF" stroke-width="3.4"/><line x1="593.9" y1="939.3" x2="593.9" y2="945.1" stroke="#1A6CDF" stroke-width="3"/><line x1="575.9" y1="945.1" x2="611.9" y2="945.1" stroke="#1A6CDF" stroke-width="3.4"/><line x1="593.9" y1="991.1" x2="593.9" y2="985.2" stroke="#1A6CDF" stroke-width="3"/><line x1="575.9" y1="985.2" x2="611.9" y2="985.2" stroke="#1A6CDF" stroke-width="3.4"/><line x1="623.4" y1="921.1" x2="623.4" y2="926.6" stroke="#1A6CDF" stroke-width="3"/><line x1="605.4" y1="926.6" x2="641.4" y2="926.6" stroke="#1A6CDF" stroke-width="3.4"/><line x1="623.4" y1="972.9" x2="623.4" y2="967.4" stroke="#1A6CDF" stroke-width="3"/><line x1="605.4" y1="967.4" x2="641.4" y2="967.4" stroke="#1A6CDF" stroke-width="3.4"/><line x1="741.0" y1="875.8" x2="741.0" y2="880.3" stroke="#1A6CDF" stroke-width="3"/><line x1="723.0" y1="880.3" x2="759.0" y2="880.3" stroke="#1A6CDF" stroke-width="3.4"/><line x1="741.0" y1="927.6" x2="741.0" y2="923.0" stroke="#1A6CDF" stroke-width="3"/><line x1="723.0" y1="923.0" x2="759.0" y2="923.0" stroke="#1A6CDF" stroke-width="3.4"/><line x1="822.0" y1="747.8" x2="822.0" y2="749.8" stroke="#1A6CDF" stroke-width="3"/><line x1="804.0" y1="749.8" x2="840.0" y2="749.8" stroke="#1A6CDF" stroke-width="3.4"/><line x1="822.0" y1="799.6" x2="822.0" y2="797.6" stroke="#1A6CDF" stroke-width="3"/><line x1="804.0" y1="797.6" x2="840.0" y2="797.6" stroke="#1A6CDF" stroke-width="3.4"/><line x1="887.9" y1="629.4" x2="887.9" y2="629.1" stroke="#1A6CDF" stroke-width="3"/><line x1="869.9" y1="629.1" x2="905.9" y2="629.1" stroke="#1A6CDF" stroke-width="3.4"/><line x1="887.9" y1="681.2" x2="887.9" y2="681.6" stroke="#1A6CDF" stroke-width="3"/><line x1="869.9" y1="681.6" x2="905.9" y2="681.6" stroke="#1A6CDF" stroke-width="3.4"/><line x1="944.8" y1="573.2" x2="944.8" y2="571.8" stroke="#1A6CDF" stroke-width="3"/><line x1="926.8" y1="571.8" x2="962.8" y2="571.8" stroke="#1A6CDF" stroke-width="3.4"/><line x1="944.8" y1="625.0" x2="944.8" y2="626.5" stroke="#1A6CDF" stroke-width="3"/><line x1="926.8" y1="626.5" x2="962.8" y2="626.5" stroke="#1A6CDF" stroke-width="3.4"/><line x1="995.7" y1="571.4" x2="995.7" y2="569.9" stroke="#1A6CDF" stroke-width="3"/><line x1="977.7" y1="569.9" x2="1013.7" y2="569.9" stroke="#1A6CDF" stroke-width="3.4"/><line x1="995.7" y1="623.2" x2="995.7" y2="624.7" stroke="#1A6CDF" stroke-width="3"/><line x1="977.7" y1="624.7" x2="1013.7" y2="624.7" stroke="#1A6CDF" stroke-width="3.4"/><line x1="1042.1" y1="560.8" x2="1042.1" y2="559.0" stroke="#1A6CDF" stroke-width="3"/><line x1="1024.1" y1="559.0" x2="1060.1" y2="559.0" stroke="#1A6CDF" stroke-width="3.4"/><line x1="1042.1" y1="612.6" x2="1042.1" y2="614.3" stroke="#1A6CDF" stroke-width="3"/><line x1="1024.1" y1="614.3" x2="1060.1" y2="614.3" stroke="#1A6CDF" stroke-width="3.4"/><line x1="1085.1" y1="499.5" x2="1085.1" y2="496.5" stroke="#1A6CDF" stroke-width="3"/><line x1="1067.1" y1="496.5" x2="1103.1" y2="496.5" stroke="#1A6CDF" stroke-width="3.4"/><line x1="1085.1" y1="551.3" x2="1085.1" y2="554.2" stroke="#1A6CDF" stroke-width="3"/><line x1="1067.1" y1="554.2" x2="1103.1" y2="554.2" stroke="#1A6CDF" stroke-width="3.4"/><line x1="1163.2" y1="475.8" x2="1163.2" y2="472.4" stroke="#1A6CDF" stroke-width="3"/><line x1="1145.2" y1="472.4" x2="1181.2" y2="472.4" stroke="#1A6CDF" stroke-width="3.4"/><line x1="1163.2" y1="527.6" x2="1163.2" y2="531.0" stroke="#1A6CDF" stroke-width="3"/><line x1="1145.2" y1="531.0" x2="1181.2" y2="531.0" stroke="#1A6CDF" stroke-width="3.4"/><line x1="1233.4" y1="453.6" x2="1233.4" y2="449.7" stroke="#1A6CDF" stroke-width="3"/><line x1="1215.4" y1="449.7" x2="1251.4" y2="449.7" stroke="#1A6CDF" stroke-width="3.4"/><line x1="1233.4" y1="505.4" x2="1233.4" y2="509.2" stroke="#1A6CDF" stroke-width="3"/><line x1="1215.4" y1="509.2" x2="1251.4" y2="509.2" stroke="#1A6CDF" stroke-width="3.4"/><line x1="1576.1" y1="421.3" x2="1576.1" y2="416.8" stroke="#1A6CDF" stroke-width="3"/><line x1="1558.1" y1="416.8" x2="1594.1" y2="416.8" stroke="#1A6CDF" stroke-width="3.4"/><line x1="1576.1" y1="473.1" x2="1576.1" y2="477.6" stroke="#1A6CDF" stroke-width="3"/><line x1="1558.1" y1="477.6" x2="1594.1" y2="477.6" stroke="#1A6CDF" stroke-width="3.4"/><line x1="1748.3" y1="353.9" x2="1748.3" y2="348.0" stroke="#1A6CDF" stroke-width="3"/><line x1="1730.3" y1="348.0" x2="1766.3" y2="348.0" stroke="#1A6CDF" stroke-width="3.4"/><line x1="1748.3" y1="405.7" x2="1748.3" y2="411.5" stroke="#1A6CDF" stroke-width="3"/><line x1="1730.3" y1="411.5" x2="1766.3" y2="411.5" stroke="#1A6CDF" stroke-width="3.4"/><line x1="1826.3" y1="291.7" x2="1826.3" y2="284.6" stroke="#1A6CDF" stroke-width="3"/><line x1="1808.3" y1="284.6" x2="1844.3" y2="284.6" stroke="#1A6CDF" stroke-width="3.4"/><line x1="1826.3" y1="343.5" x2="1826.3" y2="350.6" stroke="#1A6CDF" stroke-width="3"/><line x1="1808.3" y1="350.6" x2="1844.3" y2="350.6" stroke="#1A6CDF" stroke-width="3.4"/><line x1="2037.2" y1="278.3" x2="2037.2" y2="270.9" stroke="#1A6CDF" stroke-width="3"/><line x1="2019.2" y1="270.9" x2="2055.2" y2="270.9" stroke="#1A6CDF" stroke-width="3.4"/><line x1="2037.2" y1="330.1" x2="2037.2" y2="337.4" stroke="#1A6CDF" stroke-width="3"/><line x1="2019.2" y1="337.4" x2="2055.2" y2="337.4" stroke="#1A6CDF" stroke-width="3.4"/><line x1="2069.7" y1="256.4" x2="2069.7" y2="248.6" stroke="#1A6CDF" stroke-width="3"/><line x1="2051.7" y1="248.6" x2="2087.7" y2="248.6" stroke="#1A6CDF" stroke-width="3.4"/><line x1="2069.7" y1="308.2" x2="2069.7" y2="316.0" stroke="#1A6CDF" stroke-width="3"/><line x1="2051.7" y1="316.0" x2="2087.7" y2="316.0" stroke="#1A6CDF" stroke-width="3.4"/><line x1="2163.4" y1="226.3" x2="2163.4" y2="217.9" stroke="#1A6CDF" stroke-width="3"/><line x1="2145.4" y1="217.9" x2="2181.4" y2="217.9" stroke="#1A6CDF" stroke-width="3.4"/><line x1="2163.4" y1="278.1" x2="2163.4" y2="286.5" stroke="#1A6CDF" stroke-width="3"/><line x1="2145.4" y1="286.5" x2="2181.4" y2="286.5" stroke="#1A6CDF" stroke-width="3.4"/><line x1="2223.1" y1="220.3" x2="2223.1" y2="211.7" stroke="#1A6CDF" stroke-width="3"/><line x1="2205.1" y1="211.7" x2="2241.1" y2="211.7" stroke="#1A6CDF" stroke-width="3.4"/><line x1="2223.1" y1="272.1" x2="2223.1" y2="280.6" stroke="#1A6CDF" stroke-width="3"/><line x1="2205.1" y1="280.6" x2="2241.1" y2="280.6" stroke="#1A6CDF" stroke-width="3.4"/><line x1="528.3" y1="1435.6" x2="528.3" y2="1451.4" stroke="#31AB66" stroke-width="3"/><line x1="510.3" y1="1451.4" x2="546.3" y2="1451.4" stroke="#31AB66" stroke-width="3.4"/><line x1="528.3" y1="1487.4" x2="528.3" y2="1471.6" stroke="#31AB66" stroke-width="3"/><line x1="510.3" y1="1471.6" x2="546.3" y2="1471.6" stroke="#31AB66" stroke-width="3.4"/><line x1="555.5" y1="1408.3" x2="555.5" y2="1423.5" stroke="#31AB66" stroke-width="3"/><line x1="537.5" y1="1423.5" x2="573.5" y2="1423.5" stroke="#31AB66" stroke-width="3.4"/><line x1="555.5" y1="1460.1" x2="555.5" y2="1444.8" stroke="#31AB66" stroke-width="3"/><line x1="537.5" y1="1444.8" x2="573.5" y2="1444.8" stroke="#31AB66" stroke-width="3.4"/><line x1="576.3" y1="1267.7" x2="576.3" y2="1280.1" stroke="#31AB66" stroke-width="3"/><line x1="558.3" y1="1280.1" x2="594.3" y2="1280.1" stroke="#31AB66" stroke-width="3.4"/><line x1="576.3" y1="1319.5" x2="576.3" y2="1307.0" stroke="#31AB66" stroke-width="3"/><line x1="558.3" y1="1307.0" x2="594.3" y2="1307.0" stroke="#31AB66" stroke-width="3.4"/><line x1="593.9" y1="1195.9" x2="593.9" y2="1206.9" stroke="#31AB66" stroke-width="3"/><line x1="575.9" y1="1206.9" x2="611.9" y2="1206.9" stroke="#31AB66" stroke-width="3.4"/><line x1="593.9" y1="1247.7" x2="593.9" y2="1236.7" stroke="#31AB66" stroke-width="3"/><line x1="575.9" y1="1236.7" x2="611.9" y2="1236.7" stroke="#31AB66" stroke-width="3.4"/><line x1="623.4" y1="1187.6" x2="623.4" y2="1198.4" stroke="#31AB66" stroke-width="3"/><line x1="605.4" y1="1198.4" x2="641.4" y2="1198.4" stroke="#31AB66" stroke-width="3.4"/><line x1="623.4" y1="1239.4" x2="623.4" y2="1228.6" stroke="#31AB66" stroke-width="3"/><line x1="605.4" y1="1228.6" x2="641.4" y2="1228.6" stroke="#31AB66" stroke-width="3.4"/><line x1="741.0" y1="1086.1" x2="741.0" y2="1094.9" stroke="#31AB66" stroke-width="3"/><line x1="723.0" y1="1094.9" x2="759.0" y2="1094.9" stroke="#31AB66" stroke-width="3.4"/><line x1="741.0" y1="1137.9" x2="741.0" y2="1129.1" stroke="#31AB66" stroke-width="3"/><line x1="723.0" y1="1129.1" x2="759.0" y2="1129.1" stroke="#31AB66" stroke-width="3.4"/><line x1="822.0" y1="985.9" x2="822.0" y2="992.7" stroke="#31AB66" stroke-width="3"/><line x1="804.0" y1="992.7" x2="840.0" y2="992.7" stroke="#31AB66" stroke-width="3.4"/><line x1="822.0" y1="1037.7" x2="822.0" y2="1030.9" stroke="#31AB66" stroke-width="3"/><line x1="804.0" y1="1030.9" x2="840.0" y2="1030.9" stroke="#31AB66" stroke-width="3.4"/><line x1="887.9" y1="883.8" x2="887.9" y2="888.6" stroke="#31AB66" stroke-width="3"/><line x1="869.9" y1="888.6" x2="905.9" y2="888.6" stroke="#31AB66" stroke-width="3.4"/><line x1="887.9" y1="935.6" x2="887.9" y2="930.9" stroke="#31AB66" stroke-width="3"/><line x1="869.9" y1="930.9" x2="905.9" y2="930.9" stroke="#31AB66" stroke-width="3.4"/><line x1="944.8" y1="761.6" x2="944.8" y2="763.9" stroke="#31AB66" stroke-width="3"/><line x1="926.8" y1="763.9" x2="962.8" y2="763.9" stroke="#31AB66" stroke-width="3.4"/><line x1="944.8" y1="813.4" x2="944.8" y2="811.1" stroke="#31AB66" stroke-width="3"/><line x1="926.8" y1="811.1" x2="962.8" y2="811.1" stroke="#31AB66" stroke-width="3.4"/><line x1="995.7" y1="752.2" x2="995.7" y2="754.3" stroke="#31AB66" stroke-width="3"/><line x1="977.7" y1="754.3" x2="1013.7" y2="754.3" stroke="#31AB66" stroke-width="3.4"/><line x1="995.7" y1="804.0" x2="995.7" y2="801.9" stroke="#31AB66" stroke-width="3"/><line x1="977.7" y1="801.9" x2="1013.7" y2="801.9" stroke="#31AB66" stroke-width="3.4"/><line x1="1042.1" y1="750.0" x2="1042.1" y2="752.1" stroke="#31AB66" stroke-width="3"/><line x1="1024.1" y1="752.1" x2="1060.1" y2="752.1" stroke="#31AB66" stroke-width="3.4"/><line x1="1042.1" y1="801.8" x2="1042.1" y2="799.7" stroke="#31AB66" stroke-width="3"/><line x1="1024.1" y1="799.7" x2="1060.1" y2="799.7" stroke="#31AB66" stroke-width="3.4"/><line x1="1085.1" y1="741.0" x2="1085.1" y2="742.9" stroke="#31AB66" stroke-width="3"/><line x1="1067.1" y1="742.9" x2="1103.1" y2="742.9" stroke="#31AB66" stroke-width="3.4"/><line x1="1085.1" y1="792.8" x2="1085.1" y2="790.9" stroke="#31AB66" stroke-width="3"/><line x1="1067.1" y1="790.9" x2="1103.1" y2="790.9" stroke="#31AB66" stroke-width="3.4"/><line x1="1163.2" y1="688.0" x2="1163.2" y2="688.8" stroke="#31AB66" stroke-width="3"/><line x1="1145.2" y1="688.8" x2="1181.2" y2="688.8" stroke="#31AB66" stroke-width="3.4"/><line x1="1163.2" y1="739.8" x2="1163.2" y2="738.9" stroke="#31AB66" stroke-width="3"/><line x1="1145.2" y1="738.9" x2="1181.2" y2="738.9" stroke="#31AB66" stroke-width="3.4"/><line x1="1233.4" y1="677.7" x2="1233.4" y2="678.3" stroke="#31AB66" stroke-width="3"/><line x1="1215.4" y1="678.3" x2="1251.4" y2="678.3" stroke="#31AB66" stroke-width="3.4"/><line x1="1233.4" y1="729.5" x2="1233.4" y2="728.9" stroke="#31AB66" stroke-width="3"/><line x1="1215.4" y1="728.9" x2="1251.4" y2="728.9" stroke="#31AB66" stroke-width="3.4"/><line x1="1576.1" y1="643.4" x2="1576.1" y2="643.3" stroke="#31AB66" stroke-width="3"/><line x1="1558.1" y1="643.3" x2="1594.1" y2="643.3" stroke="#31AB66" stroke-width="3.4"/><line x1="1576.1" y1="695.2" x2="1576.1" y2="695.2" stroke="#31AB66" stroke-width="3"/><line x1="1558.1" y1="695.2" x2="1594.1" y2="695.2" stroke="#31AB66" stroke-width="3.4"/><line x1="1748.3" y1="614.2" x2="1748.3" y2="613.5" stroke="#31AB66" stroke-width="3"/><line x1="1730.3" y1="613.5" x2="1766.3" y2="613.5" stroke="#31AB66" stroke-width="3.4"/><line x1="1748.3" y1="666.0" x2="1748.3" y2="666.6" stroke="#31AB66" stroke-width="3"/><line x1="1730.3" y1="666.6" x2="1766.3" y2="666.6" stroke="#31AB66" stroke-width="3.4"/><line x1="1826.3" y1="533.6" x2="1826.3" y2="531.3" stroke="#31AB66" stroke-width="3"/><line x1="1808.3" y1="531.3" x2="1844.3" y2="531.3" stroke="#31AB66" stroke-width="3.4"/><line x1="1826.3" y1="585.4" x2="1826.3" y2="587.7" stroke="#31AB66" stroke-width="3"/><line x1="1808.3" y1="587.7" x2="1844.3" y2="587.7" stroke="#31AB66" stroke-width="3.4"/><line x1="2037.2" y1="459.3" x2="2037.2" y2="455.5" stroke="#31AB66" stroke-width="3"/><line x1="2019.2" y1="455.5" x2="2055.2" y2="455.5" stroke="#31AB66" stroke-width="3.4"/><line x1="2037.2" y1="511.1" x2="2037.2" y2="514.8" stroke="#31AB66" stroke-width="3"/><line x1="2019.2" y1="514.8" x2="2055.2" y2="514.8" stroke="#31AB66" stroke-width="3.4"/><line x1="2069.7" y1="439.4" x2="2069.7" y2="435.3" stroke="#31AB66" stroke-width="3"/><line x1="2051.7" y1="435.3" x2="2087.7" y2="435.3" stroke="#31AB66" stroke-width="3.4"/><line x1="2069.7" y1="491.2" x2="2069.7" y2="495.4" stroke="#31AB66" stroke-width="3"/><line x1="2051.7" y1="495.4" x2="2087.7" y2="495.4" stroke="#31AB66" stroke-width="3.4"/><line x1="2163.4" y1="420.9" x2="2163.4" y2="416.4" stroke="#31AB66" stroke-width="3"/><line x1="2145.4" y1="416.4" x2="2181.4" y2="416.4" stroke="#31AB66" stroke-width="3.4"/><line x1="2163.4" y1="472.7" x2="2163.4" y2="477.2" stroke="#31AB66" stroke-width="3"/><line x1="2145.4" y1="477.2" x2="2181.4" y2="477.2" stroke="#31AB66" stroke-width="3.4"/><line x1="2223.1" y1="414.8" x2="2223.1" y2="410.2" stroke="#31AB66" stroke-width="3"/><line x1="2205.1" y1="410.2" x2="2241.1" y2="410.2" stroke="#31AB66" stroke-width="3.4"/><line x1="2223.1" y1="466.6" x2="2223.1" y2="471.3" stroke="#31AB66" stroke-width="3"/><line x1="2205.1" y1="471.3" x2="2241.1" y2="471.3" stroke="#31AB66" stroke-width="3.4"/></g><g><line x1="528.6" y1="1593.1" x2="623.0" y2="1360.8" stroke="#F43333" stroke-width="3.8"/><line x1="528.2" y1="1332.3" x2="623.0" y2="966.8" stroke="#1FA35E" stroke-width="3.8"/><line x1="528.7" y1="1509.7" x2="623.0" y2="845.3" stroke="#1FA35E" stroke-width="3.8"/><line x1="528.7" y1="1468.5" x2="623.0" y2="1179.0" stroke="#000" stroke-width="3.8"/><line x1="740.2" y1="1323.6" x2="1234.0" y2="969.6" stroke="#F43333" stroke-width="3.8"/><line x1="740.1" y1="858.2" x2="1233.0" y2="624.7" stroke="#1166E0" stroke-width="3.8"/><line x1="740.1" y1="827.1" x2="1233.0" y2="427.8" stroke="#1FA35E" stroke-width="3.8"/><line x1="740.1" y1="1045.3" x2="1233.0" y2="640.3" stroke="#000" stroke-width="3.8"/><line x1="1574.9" y1="946.3" x2="2223.2" y2="767.6" stroke="#1166E0" stroke-width="3.8"/><line x1="1575.3" y1="569.1" x2="2223.2" y2="385.6" stroke="#1FA35E" stroke-width="3.8"/><line x1="1575.3" y1="428.6" x2="2223.2" y2="237.5" stroke="#000" stroke-width="3.8"/><line x1="1575.4" y1="675.7" x2="2223.2" y2="423.0" stroke="#000" stroke-width="3.8"/></g><g><rect x="316.1" y="41.5" width="2053.6" height="1650.5" fill="none" stroke="#000" stroke-width="6"/><line x1="299.5" y1="1692.0" x2="316.1" y2="1692.0" stroke="#000" stroke-width="6"/><line x1="282.6" y1="1600.3" x2="316.1" y2="1600.3" stroke="#000" stroke-width="6"/><line x1="299.5" y1="1508.5" x2="316.1" y2="1508.5" stroke="#000" stroke-width="6"/><line x1="282.6" y1="1416.7" x2="316.1" y2="1416.7" stroke="#000" stroke-width="6"/><line x1="299.5" y1="1324.9" x2="316.1" y2="1324.9" stroke="#000" stroke-width="6"/><line x1="282.6" y1="1233.2" x2="316.1" y2="1233.2" stroke="#000" stroke-width="6"/><line x1="299.5" y1="1141.4" x2="316.1" y2="1141.4" stroke="#000" stroke-width="6"/><line x1="282.6" y1="1049.6" x2="316.1" y2="1049.6" stroke="#000" stroke-width="6"/><line x1="299.5" y1="957.8" x2="316.1" y2="957.8" stroke="#000" stroke-width="6"/><line x1="282.6" y1="866.0" x2="316.1" y2="866.0" stroke="#000" stroke-width="6"/><line x1="299.5" y1="774.3" x2="316.1" y2="774.3" stroke="#000" stroke-width="6"/><line x1="282.6" y1="682.5" x2="316.1" y2="682.5" stroke="#000" stroke-width="6"/><line x1="299.5" y1="590.7" x2="316.1" y2="590.7" stroke="#000" stroke-width="6"/><line x1="282.6" y1="498.9" x2="316.1" y2="498.9" stroke="#000" stroke-width="6"/><line x1="299.5" y1="407.1" x2="316.1" y2="407.1" stroke="#000" stroke-width="6"/><line x1="282.6" y1="315.4" x2="316.1" y2="315.4" stroke="#000" stroke-width="6"/><line x1="299.5" y1="223.6" x2="316.1" y2="223.6" stroke="#000" stroke-width="6"/><line x1="282.6" y1="131.8" x2="316.1" y2="131.8" stroke="#000" stroke-width="6"/><line x1="299.5" y1="41.5" x2="316.1" y2="41.5" stroke="#000" stroke-width="6"/><line x1="316.1" y1="1692.0" x2="316.1" y2="1707.0" stroke="#000" stroke-width="6"/><line x1="463.0" y1="1692.0" x2="463.0" y2="1723.1" stroke="#000" stroke-width="6"/><line x1="609.6" y1="1692.0" x2="609.6" y2="1707.0" stroke="#000" stroke-width="6"/><line x1="756.1" y1="1692.0" x2="756.1" y2="1723.1" stroke="#000" stroke-width="6"/><line x1="902.7" y1="1692.0" x2="902.7" y2="1707.0" stroke="#000" stroke-width="6"/><line x1="1049.3" y1="1692.0" x2="1049.3" y2="1723.1" stroke="#000" stroke-width="6"/><line x1="1195.8" y1="1692.0" x2="1195.8" y2="1707.0" stroke="#000" stroke-width="6"/><line x1="1342.4" y1="1692.0" x2="1342.4" y2="1723.1" stroke="#000" stroke-width="6"/><line x1="1489.0" y1="1692.0" x2="1489.0" y2="1707.0" stroke="#000" stroke-width="6"/><line x1="1635.5" y1="1692.0" x2="1635.5" y2="1723.1" stroke="#000" stroke-width="6"/><line x1="1782.1" y1="1692.0" x2="1782.1" y2="1707.0" stroke="#000" stroke-width="6"/><line x1="1928.6" y1="1692.0" x2="1928.6" y2="1723.1" stroke="#000" stroke-width="6"/><line x1="2075.2" y1="1692.0" x2="2075.2" y2="1707.0" stroke="#000" stroke-width="6"/><line x1="2221.8" y1="1692.0" x2="2221.8" y2="1723.1" stroke="#000" stroke-width="6"/><line x1="2369.7" y1="1692.0" x2="2369.7" y2="1707.0" stroke="#000" stroke-width="6"/></g><g font-family="Liberation Serif, serif" font-weight="bold" font-size="72"><text transform="translate(263,1622.9) scale(1,1.04)" text-anchor="end">200</text><text transform="translate(263,1439.3) scale(1,1.04)" text-anchor="end">300</text><text transform="translate(263,1255.8) scale(1,1.04)" text-anchor="end">400</text><text transform="translate(263,1072.2) scale(1,1.04)" text-anchor="end">500</text><text transform="translate(263,888.6) scale(1,1.04)" text-anchor="end">600</text><text transform="translate(263,705.1) scale(1,1.04)" text-anchor="end">700</text><text transform="translate(263,521.5) scale(1,1.04)" text-anchor="end">800</text><text transform="translate(263,338.0) scale(1,1.04)" text-anchor="end">900</text><text transform="translate(263,154.4) scale(1,1.04)" text-anchor="end">1000</text><text transform="translate(464.2,1802.3) scale(1,1.04)" text-anchor="middle">0</text><text transform="translate(757.3,1802.3) scale(1,1.04)" text-anchor="middle">10</text><text transform="translate(1050.5,1802.3) scale(1,1.04)" text-anchor="middle">20</text><text transform="translate(1343.6,1802.3) scale(1,1.04)" text-anchor="middle">30</text><text transform="translate(1636.7,1802.3) scale(1,1.04)" text-anchor="middle">40</text><text transform="translate(1929.8,1802.3) scale(1,1.04)" text-anchor="middle">50</text><text transform="translate(2223.0,1802.3) scale(1,1.04)" text-anchor="middle">60</text></g><text x="1139" y="1919" font-family="Liberation Serif, serif" font-weight="bold" font-size="85"><tspan font-style="italic">t</tspan><tspan font-size="60" dy="-38">0.5</tspan><tspan dy="38"> (min</tspan><tspan font-size="60" dy="-38">0.5</tspan><tspan dy="38">)</tspan></text><text transform="translate(99,1008) rotate(-90)" font-family="Liberation Serif, serif" font-weight="bold" font-size="86"><tspan font-style="italic">q</tspan><tspan font-size="60" dy="23">e</tspan><tspan dy="-23"> (mg/g)</tspan></text><g font-family="Liberation Serif, serif" font-size="87"><circle cx="1476.6" cy="1135.7" r="24.4" fill="#fff" stroke="#505050" stroke-width="3.0"/><path d="M1450.76,1133.90 A25.90,25.90 0 1 0 1502.44,1133.90 Z" fill="#505050"/><text x="1592.5" y="1163.2">RWT-PC</text><circle cx="1476.6" cy="1241.5" r="24.4" fill="#fff" stroke="#F44141" stroke-width="3.0"/><path d="M1450.76,1239.70 A25.90,25.90 0 1 0 1502.44,1239.70 Z" fill="#F44141"/><text x="1592.5" y="1269.0">NaOH-pc</text><circle cx="1476.6" cy="1346.5" r="24.4" fill="#fff" stroke="#1A6CDF" stroke-width="3.0"/><path d="M1474.80,1320.66 A25.90,25.90 0 1 1 1474.80,1372.34 Z" fill="#1A6CDF"/><text x="1592.5" y="1374.0">CaO-PC</text><circle cx="1476.6" cy="1452.9" r="24.4" fill="#fff" stroke="#31AB66" stroke-width="3.0"/><path d="M1474.80,1427.06 A25.90,25.90 0 1 1 1474.80,1478.74 Z" fill="#31AB66"/><text x="1592.5" y="1480.4">Na<tspan font-size="59" dy="22.5">2</tspan><tspan dy="-22.5">CO</tspan><tspan font-size="59" dy="22.5">3</tspan><tspan dy="-22.5">-PC</tspan></text><line x1="1388.8" y1="1569.3" x2="1586.3" y2="1569.3" stroke="#000" stroke-width="5.2"/><text x="1604" y="1598.5" font-size="86.4">Intraparticle diffusion</text></g></svg></body></html>
